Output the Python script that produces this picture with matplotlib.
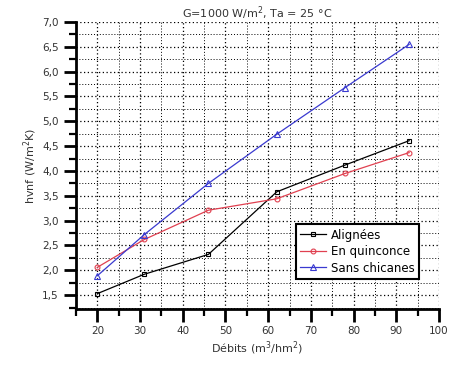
import matplotlib
matplotlib.use("Agg")
import matplotlib.pyplot as plt
from matplotlib.ticker import MultipleLocator, FuncFormatter

debits = [20, 31, 46, 62, 78, 93]
alignees = [1.53, 1.92, 2.32, 3.58, 4.12, 4.61]
quinconce = [2.06, 2.62, 3.21, 3.44, 3.95, 4.37]
sans_chicanes = [1.89, 2.72, 3.75, 4.74, 5.68, 6.55]
labels = ["Alignées", "En quinconce", "Sans chicanes"]

fig = plt.figure(figsize=(4.51, 3.67), dpi=100)
ax = fig.add_axes([0.1685, 0.158, 0.805, 0.782])

ax.plot(debits, alignees, color="black", lw=0.9, marker="s", ms=3.5, mfc="none", mew=0.8, label=labels[0])
ax.plot(debits, quinconce, color="#e04050", lw=0.9, marker="o", ms=3.5, mfc="none", mew=0.8, label=labels[1])
ax.plot(debits, sans_chicanes, color="#3a3ad0", lw=0.9, marker="^", ms=4, mfc="none", mew=0.8, label=labels[2])

ax.set_xlim(15, 100)
ax.set_ylim(1.22, 7.0)
ax.xaxis.set_major_locator(MultipleLocator(10))
ax.xaxis.set_minor_locator(MultipleLocator(5))
ax.yaxis.set_major_locator(MultipleLocator(0.5))
ax.yaxis.set_minor_locator(MultipleLocator(0.25))
ax.xaxis.set_major_formatter(FuncFormatter(lambda v, p: f"{int(v)}" if v >= 20 else ""))
ax.yaxis.set_major_formatter(FuncFormatter(lambda v, p: f"{v:.1f}".replace(".", ",") if v >= 1.5 else ""))

ax.grid(which="major", color="black", linestyle=(0, (1, 2)), lw=0.9)
ax.grid(which="minor", color="black", linestyle=(0, (1, 2)), lw=0.7)

for s in ["top", "right"]:
    ax.spines[s].set_visible(False)
for s in ["left", "bottom"]:
    ax.spines[s].set_linewidth(2)

ax.tick_params(which="major", direction="out", length=9, width=2, labelsize=7.5, colors="black", labelcolor="#333333")
ax.tick_params(which="minor", direction="out", length=5, width=1.6)

ax.set_title("G=1000 W/m$^2$, Ta = 25 °C", fontsize=8, pad=2, color="#333333")
ax.set_ylabel("hvnf (W/m$^2$K)", fontsize=8, color="#333333", labelpad=2)
ax.set_xlabel("Débits (m$^3$/hm$^2$)", fontsize=8, color="#333333", labelpad=2)

leg = ax.legend(loc="lower right", bbox_to_anchor=(0.96, 0.085), fontsize=8.5, frameon=True,
                fancybox=False, edgecolor="black", framealpha=1, handlelength=2.2,
                borderpad=0.35, labelspacing=0.3, handletextpad=0.4)
leg.get_frame().set_linewidth(1.5)

fig.savefig("out.png", dpi=100)
